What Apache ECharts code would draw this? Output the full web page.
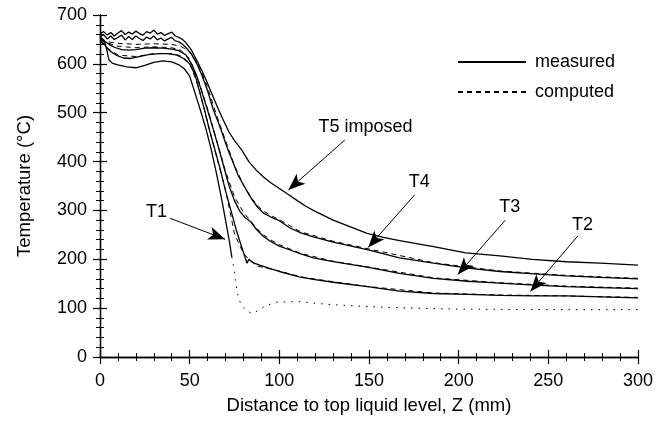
<!DOCTYPE html>
<html>
<head>
<meta charset="utf-8">
<script src="https://cdn.jsdelivr.net/npm/echarts@6/dist/echarts.min.js"></script>
<style>
  html, body { margin: 0; padding: 0; background: #fff; }
  #chart { width: 661px; height: 423px; }
</style>
</head>
<body>
<div id="chart"></div>
<script>
// noisy plateau of the two hottest thermocouples, z = 0..44 mm every 2 mm
const plateauZ = [0, 2, 4, 6, 8, 10, 12, 14, 16, 18, 20, 22, 24, 26, 28, 30, 32, 34, 36, 38, 40, 42, 44]
const plateauT5 = [662, 666, 659, 664, 657, 663, 668, 660, 665, 661, 667, 662, 659, 666, 663, 669, 661, 664, 658, 662, 665, 657, 654]
const plateauT4 = [655, 660, 651, 657, 650, 654, 659, 649, 656, 650, 657, 652, 648, 655, 651, 657, 649, 653, 647, 651, 654, 647, 645]

const t5Tail = [[46, 650], [48, 643], [51, 628], [54, 607], [57, 585], [60, 560], [63, 533], [66, 507], [69, 483], [72, 460], [75, 443], [79, 424], [83, 400], [87, 383], [91, 369], [95, 357], [100, 345], [104, 335], [110, 320], [115, 308], [120, 298], [130, 280], [140, 266], [149, 253], [158, 245], [167, 238], [186, 226], [204, 213], [223, 207], [241, 200], [260, 195], [279, 192], [300, 188]]
const t4Tail = [[46, 640], [48, 633], [51, 620], [54, 600], [57, 575], [60, 545], [63, 508], [66, 480], [68, 460], [70, 438], [72, 418], [74, 400], [77, 372], [80, 352], [83, 333], [85, 321], [88, 306], [91, 295], [95, 287], [100, 279], [106, 264], [112, 254], [119, 246], [130, 235], [149, 220], [167, 203], [186, 192], [205, 182], [223, 175], [242, 170], [260, 166], [279, 163], [300, 160]]
const t3Measured = [[0, 652], [2, 648], [5, 640], [8, 634], [12, 629], [16, 628], [20, 629], [25, 632], [30, 633], [35, 632], [40, 630], [44, 627], [48, 618], [51, 600], [54, 575], [57, 540], [60, 505], [63, 468], [66, 430], [69, 390], [72, 350], [75, 320], [78, 298], [81, 285], [84, 277], [87, 262], [91, 247], [95, 237], [100, 227], [106, 219], [112, 211], [119, 203], [130, 195], [149, 184], [167, 171], [186, 161], [205, 155], [223, 151], [242, 147], [260, 144], [279, 142], [300, 140]]
const t2Measured = [[0, 648], [2, 642], [4, 632], [6, 625], [9, 618], [13, 612], [17, 611], [22, 615], [27, 619], [33, 621], [38, 621], [43, 618], [47, 610], [50, 600], [53, 578], [55, 550], [58, 510], [61, 465], [64, 425], [67, 385], [70, 340], [73, 300], [76, 260], [79, 225], [82, 192], [83, 200], [84, 197], [86, 192], [89, 188], [95, 181], [100, 175], [111, 164], [119, 159], [130, 153], [149, 144], [167, 135], [186, 130], [205, 128], [223, 126], [242, 125], [260, 125], [279, 123], [300, 121]]
const t1Measured = [[0, 655], [2, 650], [3, 640], [4, 625], [5, 608], [7, 601], [10, 598], [15, 594], [20, 592], [25, 597], [30, 603], [35, 606], [40, 604], [44, 598], [47, 590], [50, 575], [53, 540], [56, 505], [59, 468], [62, 425], [65, 375], [68, 320], [70, 280], [72, 240], [73.5, 205]]

const t4Computed = [[0, 648], [5, 645], [10, 642], [20, 640], [30, 641], [40, 640], [45, 636], [50, 625], [55, 598], [60, 552], [65, 495], [70, 443], [75, 392], [80, 352], [85, 323], [90, 302], [95, 290], [100, 281], [112, 256], [130, 237], [150, 221], [186, 193], [223, 176], [260, 167], [300, 161]]
const t3Computed = [[0, 650], [5, 642], [10, 636], [20, 633], [30, 635], [40, 633], [45, 628], [50, 610], [55, 565], [60, 508], [65, 444], [70, 380], [75, 328], [80, 296], [85, 274], [90, 253], [95, 240], [100, 230], [112, 212], [130, 196], [150, 184], [186, 162], [223, 152], [260, 145], [300, 141]]
const t2Computed = [[0, 646], [5, 630], [10, 618], [20, 615], [30, 621], [40, 621], [45, 616], [50, 602], [55, 552], [60, 480], [65, 410], [70, 342], [75, 252], [80, 212], [84, 196], [88, 186], [95, 180], [100, 176], [112, 164], [130, 154], [150, 144], [186, 131], [223, 127], [260, 125], [300, 122]]
const t1Computed = [[73.5, 205], [74.5, 185], [75.5, 158], [76.5, 132], [78.5, 108], [82, 94], [85, 89], [88, 95], [92, 104], [98, 112], [105, 113], [112, 113], [120, 110], [130, 107], [150, 103], [175, 100], [200, 98], [250, 97], [300, 97]]

// labels: text, text position, arrow start, arrow tip (data units)
const labels = [
  { text: 'T5 imposed', at: [148, 471], from: [136.5, 444], to: [105, 342] },
  { text: 'T4', at: [178, 358], from: [175.5, 332], to: [149.5, 224] },
  { text: 'T3', at: [228.5, 307], from: [226, 280], to: [199.5, 169] },
  { text: 'T2', at: [269, 270], from: [266.5, 248], to: [240, 134] },
  { text: 'T1', at: [31.5, 297], from: [39, 284], to: [69.8, 241] }
]

const xTicks = { min: 0, max: 300, interval: 50 }
const yTicks = { min: 0, max: 700, interval: 100 }

const font = 'Liberation Sans, Arial, sans-serif'
const chart = echarts.init(document.getElementById('chart'))

const zip = (xs, ys) => xs.map((x, i) => [x, ys[i]])

const lineSeries = (name, data, dash) => ({
  name: name,
  type: 'line',
  data: data,
  symbol: 'none',
  silent: true,
  animation: false,
  color: '#000',
  lineStyle: { color: '#000', width: dash ? 1 : 1.3, type: dash || 'solid' }
})

const axisCommon = {
  type: 'value',
  axisLine: { show: true, lineStyle: { color: '#000', width: 1.3 } },
  axisTick: { show: true, inside: true, length: 7, lineStyle: { color: '#000', width: 1.2 } },
  minorTick: { show: true, splitNumber: 5, length: 4, lineStyle: { color: '#000', width: 1 } },
  splitLine: { show: false }
}

const series = [
  lineSeries('measured', zip(plateauZ, plateauT5).concat(t5Tail)),
  lineSeries('measured', zip(plateauZ, plateauT4).concat(t4Tail)),
  lineSeries('measured', t3Measured),
  lineSeries('measured', t2Measured),
  lineSeries('measured', t1Measured),
  lineSeries('computed', t4Computed, [5, 4]),
  lineSeries('computed', t3Computed, [5, 4]),
  lineSeries('computed', t2Computed, [5, 4]),
  lineSeries('computed', t1Computed, [1.5, 6]),
  {
    type: 'scatter',
    symbolSize: 0,
    silent: true,
    animation: false,
    itemStyle: { color: '#000', opacity: 1 },
    data: labels.map(l => ({ value: l.at, name: l.text })),
    label: {
      show: true,
      position: 'inside',
      formatter: p => p.name,
      color: '#000',
      textBorderWidth: 0,
      fontFamily: font,
      fontSize: 18
    },
    markLine: {
      silent: true,
      animation: false,
      symbol: ['none', 'arrow'],
      symbolSize: [10, 17],
      lineStyle: { color: '#000', width: 1, type: 'solid' },
      label: { show: false },
      data: labels.map(l => [{ coord: l.from }, { coord: l.to }])
    }
  }
]

chart.setOption({
  animation: false,
  backgroundColor: '#fff',
  grid: { left: 100, right: 23, top: 15, bottom: 66 },
  legend: {
    data: ['measured', 'computed'],
    orient: 'vertical',
    left: 452,
    top: 48,
    itemWidth: 68,
    itemHeight: 14,
    itemGap: 12,
    itemStyle: { color: 'transparent', borderWidth: 0 },
    textStyle: { color: '#000', fontFamily: font, fontSize: 18, padding: [0, 0, 0, 4] }
  },
  xAxis: [
    Object.assign({}, axisCommon, xTicks, {
      position: 'bottom',
      name: 'Distance to top liquid level, Z (mm)',
      nameLocation: 'middle',
      nameGap: 39,
      nameTextStyle: { color: '#000', fontFamily: font, fontSize: 18.5 },
      axisLabel: { color: '#000', fontFamily: font, fontSize: 18, margin: 15 }
    }),
    Object.assign({}, axisCommon, xTicks, {
      position: 'top',
      axisLabel: { show: false }
    })
  ],
  yAxis: [
    Object.assign({}, axisCommon, yTicks, {
      position: 'left',
      name: 'Temperature (°C)',
      nameLocation: 'middle',
      nameGap: 66,
      nameTextStyle: { color: '#000', fontFamily: font, fontSize: 18.5 },
      axisLabel: { color: '#000', fontFamily: font, fontSize: 18, margin: 13 }
    }),
    Object.assign({}, axisCommon, yTicks, {
      position: 'right',
      axisLabel: { show: false }
    })
  ],
  series: series
})
</script>
</body>
</html>
